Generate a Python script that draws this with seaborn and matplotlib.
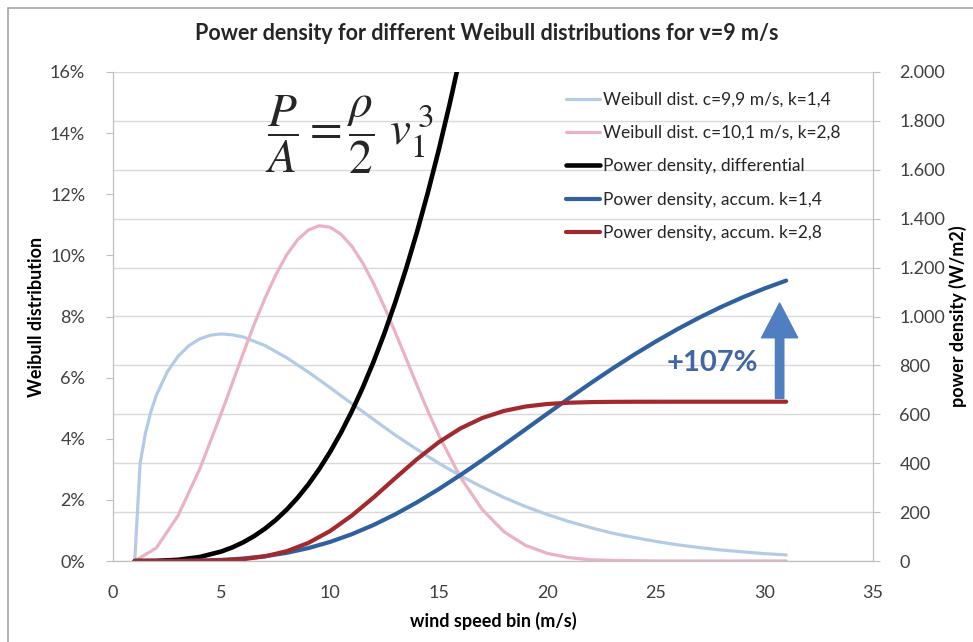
import matplotlib
matplotlib.use('Agg')
import matplotlib.pyplot as plt
import seaborn as sns
from matplotlib.ticker import MultipleLocator, FuncFormatter
from matplotlib.patches import Rectangle

# wind speed bins (m/s) - extra half steps where the curves bend sharply
wind_speed = list(range(1, 32))
speed_k14 = [1, 1.25, 1.5, 1.75, 2, 2.5, 3, 3.5, 4, 4.5, 5, 5.5] + list(range(6, 32))
speed_k28 = [1, 2, 3, 4, 5, 6, 6.5, 7, 7.5, 8, 8.5, 9, 9.5, 10, 10.5, 11, 11.5, 12,
             12.5, 13, 13.5, 14, 14.5] + list(range(15, 32))
speed_diff = [1, 2, 3, 4, 5, 5.5, 6, 6.5, 7, 7.5, 8, 8.5, 9, 9.5, 10, 10.5, 11, 11.5,
              12, 12.5, 13, 13.5, 14, 14.5, 15, 15.5, 16, 17]

# Weibull distributions (%)
weibull_k14 = [0, 3.2, 4.2, 4.9, 5.43, 6.19, 6.70, 7.05, 7.27, 7.39, 7.43, 7.40,
               7.33, 7.05, 6.65, 6.18, 5.67, 5.15, 4.63, 4.12, 3.65, 3.20, 2.79, 2.42,
               2.08, 1.78, 1.52, 1.29, 1.09, 0.91, 0.77, 0.64, 0.53, 0.44, 0.36, 0.30,
               0.24, 0.20]
weibull_k28 = [0, 0.43, 1.49, 3.02, 4.86, 6.80, 7.74, 8.60, 9.37, 10.02, 10.51, 10.83,
               10.97, 10.92, 10.69, 10.30, 9.75, 9.08, 8.31, 7.48, 6.62, 5.75, 4.91,
               4.12, 2.74, 1.69, 0.96, 0.51, 0.25, 0.11, 0.04, 0.02, 0.01, 0, 0, 0, 0,
               0, 0, 0]

# power density (W/m2)
power_diff = [0, 0.6, 4.9, 16.5, 39.2, 55.8, 76.6, 101.9, 132.3, 168.2, 210.1, 258.4,
              313.6, 376.2, 446.5, 525.1, 612.5, 709.0, 815.2, 931.5, 1058.4, 1196.3,
              1345.7, 1507.0, 1680.7, 1867.3, 2067.2, 2508.8]
accum_k14 = [0, 0.03, 0.36, 1.6, 4.5, 10.1, 19.4, 33.4, 52.8, 78.1, 109.7, 147.4,
             191.0, 240.1, 293.9, 351.6, 412.2, 474.9, 538.6, 602.5, 665.6, 727.4,
             787.0, 844.0, 897.9, 948.5, 995.5, 1038.8, 1078.5, 1114.5, 1146.9]
accum_k28 = [0, 0, 0.08, 0.6, 2.5, 7.7, 19.1, 40.1, 74.1, 122.8, 185.9, 259.9,
             339.1, 416.5, 485.7, 542.3, 584.7, 613.7, 631.8, 642.1, 647.4, 649.9,
             650.9, 651.3, 651.4, 651.5, 651.5, 651.5, 651.5, 651.5, 651.5]

sns.set_style('white')
plt.rcParams['font.family'] = ['Lato', 'DejaVu Sans']
plt.rcParams['mathtext.fontset'] = 'stix'

TXT = '#404040'
GRID = '#d9d9d9'

fig = plt.figure(figsize=(9.73, 6.42), dpi=100)
ax = fig.add_axes([113/973, 1 - 561/642, 760/973, 489/642])
ax2 = ax.twinx()

sns.lineplot(x=speed_k14, y=weibull_k14, ax=ax, color='#b4cbe6', linewidth=2.3,
             label='Weibull dist. c=9,9 m/s, k=1,4', legend=False)
sns.lineplot(x=speed_k28, y=weibull_k28, ax=ax, color='#e9b3c1', linewidth=2.3,
             label='Weibull dist. c=10,1 m/s, k=2,8', legend=False)
sns.lineplot(x=speed_diff, y=power_diff, ax=ax2, color='black', linewidth=3.3,
             label='Power density, differential', legend=False)
sns.lineplot(x=wind_speed, y=accum_k14, ax=ax2, color='#2f619f', linewidth=3.0,
             label='Power density, accum. k=1,4', legend=False)
sns.lineplot(x=wind_speed, y=accum_k28, ax=ax2, color='#a2292e', linewidth=3.0,
             label='Power density, accum. k=2,8', legend=False)

ax.set_xlim(0, 35)
ax.set_ylim(0, 16)
ax2.set_ylim(0, 2000)
ax.xaxis.set_major_locator(MultipleLocator(5))
ax.yaxis.set_major_locator(MultipleLocator(2))
ax2.yaxis.set_major_locator(MultipleLocator(200))
ax.yaxis.set_major_formatter(FuncFormatter(lambda v, _: f'{v:.0f}%'))
ax2.yaxis.set_major_formatter(FuncFormatter(lambda v, _: f'{v:,.0f}'.replace(',', '.')))

# horizontal gridlines follow the right axis (every 200 W/m2)
ax.grid(False)
ax2.grid(False)
ax.yaxis.set_minor_locator(MultipleLocator(1.6))
ax.yaxis.remove_overlapping_locs = False
ax.grid(which='minor', axis='y', color=GRID, linewidth=1.0)
ax.set_axisbelow(True)

for a in (ax, ax2):
    for s in a.spines.values():
        s.set_color('#bfbfbf')
    a.spines['top'].set_visible(False)
ax.tick_params(axis='both', which='major', direction='out', length=5, color='#bfbfbf',
               labelsize=13, labelcolor=TXT)
ax.tick_params(axis='x', which='major', pad=12)
ax.tick_params(axis='y', which='major', pad=15)
ax.tick_params(axis='y', which='minor', length=0)
ax2.tick_params(axis='y', direction='out', length=5, color='#bfbfbf',
                labelsize=13, labelcolor=TXT, pad=14)

ax.set_xlabel('wind speed bin (m/s)', fontsize=13, fontweight='bold', color='black')
ax.xaxis.set_label_coords(0.5, -0.105)
ax.set_ylabel('Weibull distribution', fontsize=13, fontweight='bold', color='black')
ax.yaxis.set_label_coords(-0.09, 0.5)
ax2.set_ylabel('power density (W/m2)', fontsize=13, fontweight='bold', color='black')
ax2.yaxis.set_label_coords(1.10, 0.5)

fig.text(0.5, 1 - 34/642, 'Power density for different Weibull distributions for v=9 m/s',
         ha='center', va='center', fontsize=15.5, fontweight='bold')

# formula
ax.text(7.0, 13.95, r'$\dfrac{P}{A} = \dfrac{\rho}{2}\ v_1^{\,3}$', fontsize=34,
        color='#262626', ha='left', va='center')

# +107% annotation with arrow
ax2.annotate('', xy=(30.7, 1055), xytext=(30.7, 665),
             arrowprops=dict(width=6, headwidth=26, headlength=25, shrink=0,
                             color='#4f7fc0', edgecolor='#4472b0'))
ax2.text(27.6, 810, '+107%', ha='center', va='center', fontsize=21,
         fontweight='bold', color='#4266a3')

# legend
h1, l1 = ax.get_legend_handles_labels()
h2, l2 = ax2.get_legend_handles_labels()
ax2.legend(h1 + h2, l1 + l2, loc='upper left', bbox_to_anchor=(557/973, 1 - 83/642),
           bbox_transform=fig.transFigure, frameon=False, fontsize=12.5,
           handlelength=2.0, handletextpad=0.15, labelspacing=1.0, borderpad=0)

# chart area border
fig.add_artist(Rectangle((8/973, -0.05), 1.0, 1.05 - 8/642, transform=fig.transFigure,
                         fill=False, edgecolor='#a6a6a6', linewidth=1.2))

plt.savefig('out.png', dpi=100)
